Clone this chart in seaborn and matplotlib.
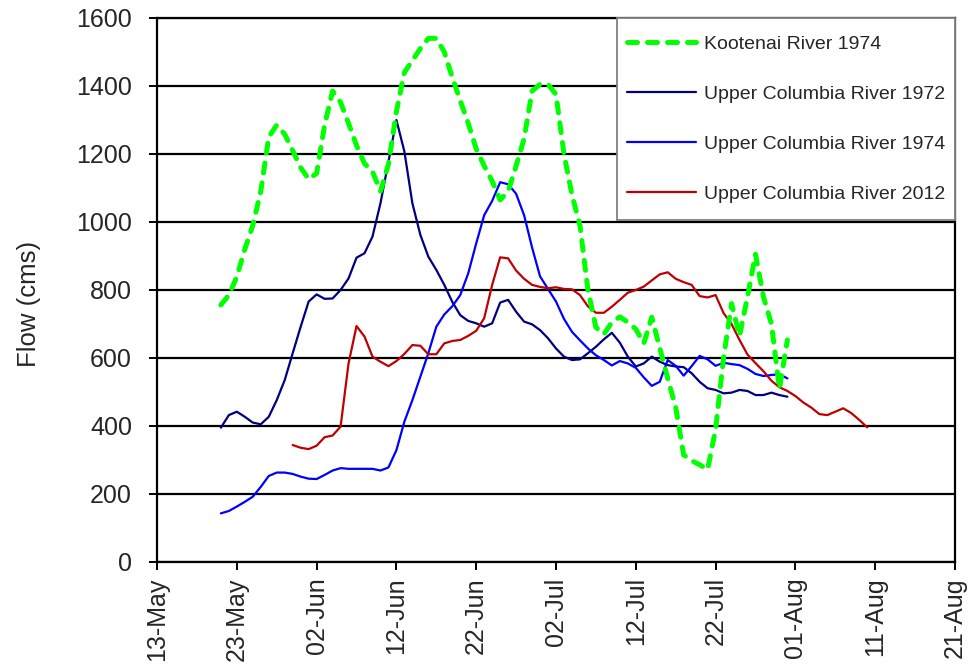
import matplotlib
matplotlib.use("Agg")
import matplotlib.pyplot as plt
import matplotlib.dates as mdates
from matplotlib.patches import Rectangle
import numpy as np
import pandas as pd
import seaborn as sns

# Daily flow (cms); each series starts on the given date
kootenai_1974_start = "2000-05-21"
kootenai_1974 = [
    756, 785, 839, 920, 990, 1090, 1250, 1285, 1258, 1210, 1160, 1126, 1143,
    1285, 1385, 1352, 1290, 1225, 1172, 1148, 1090, 1170, 1325, 1440, 1475,
    1510, 1540, 1540, 1500, 1425, 1357, 1290, 1215, 1165, 1120, 1065, 1090,
    1165, 1245, 1385, 1405, 1405, 1375, 1200, 1080, 990, 800, 690, 670, 705,
    721, 705, 685, 643, 720, 630, 540, 455, 315, 298, 286, 272, 390, 600, 760,
    665, 780, 905, 780, 700, 510, 653,
]

upper_col_1972_start = "2000-05-21"
upper_col_1972 = [
    395, 432, 442, 427, 410, 405, 427, 476, 535, 614, 692, 766, 787, 774, 775,
    800, 834, 895, 908, 957, 1055, 1177, 1300, 1207, 1055, 962, 898, 859, 815,
    765, 726, 709, 702, 692, 702, 763, 771, 736, 707, 699, 682, 658, 628, 604,
    594, 596, 614, 633, 655, 674, 645, 604, 575, 584, 604, 589, 579, 575, 573,
    555, 530, 511, 506, 496, 498, 506, 503, 491, 491, 498, 491, 486,
]

upper_col_1974_start = "2000-05-21"
upper_col_1974 = [
    143, 150, 163, 177, 192, 221, 253, 263, 263, 259, 251, 245, 244, 256, 269,
    276, 274, 274, 274, 274, 269, 278, 329, 413, 476, 545, 614, 692, 728, 752,
    785, 849, 937, 1020, 1062, 1117, 1111, 1083, 1020, 925, 840, 803, 766, 715,
    677, 652, 628, 608, 594, 578, 591, 584, 571, 543, 518, 530, 594, 577, 548,
    576, 606, 596, 577, 586, 582, 579, 568, 553, 547, 550, 552, 540,
]

upper_col_2012_start = "2000-05-30"
upper_col_2012 = [
    344, 336, 332, 342, 367, 372, 398, 584, 694, 663, 604, 589, 576, 591, 612,
    638, 636, 611, 611, 643, 650, 653, 665, 680, 717, 815, 896, 893, 857, 833,
    815, 809, 805, 808, 803, 802, 785, 752, 733, 733, 751, 771, 792, 800, 810,
    828, 846, 852, 833, 823, 815, 782, 778, 785, 732, 700, 653, 610, 585, 561,
    533, 514, 503, 488, 469, 454, 435, 432, 442, 452, 438, 418, 396,
]

series_names = [
    "Kootenai River 1974",
    "Upper Columbia River 1972",
    "Upper Columbia River 1974",
    "Upper Columbia River 2012",
]
series_starts = [kootenai_1974_start, upper_col_1972_start,
                 upper_col_1974_start, upper_col_2012_start]
series_values = [kootenai_1974, upper_col_1972, upper_col_1974, upper_col_2012]

y_ticks = [0, 200, 400, 600, 800, 1000, 1200, 1400, 1600]
x_start, x_end = "2000-05-13", "2000-08-21"

sns.set_style("white")
plt.rcParams["font.family"] = ["Liberation Sans", "DejaVu Sans"]

frames = []
for name, start, vals in zip(series_names, series_starts, series_values):
    frames.append(pd.DataFrame({
        "date": pd.date_range(start, periods=len(vals), freq="D"),
        "flow": vals,
        "series": name,
    }))
df = pd.concat(frames, ignore_index=True)

styles = {
    "Kootenai River 1974": dict(color="#00FF00", lw=3.6, z=5),
    "Upper Columbia River 1972": dict(color="#000080", lw=1.6, z=3),
    "Upper Columbia River 1974": dict(color="#0000FF", lw=1.6, z=3),
    "Upper Columbia River 2012": dict(color="#C00000", lw=1.6, z=4),
}

fig = plt.figure(figsize=(9.7, 6.68), dpi=100)
ax = fig.add_axes([0.1619, 0.1587, 0.8226, 0.8144])

for name in series_names:
    st = styles[name]
    sub = df[df["series"] == name]
    sns.lineplot(data=sub, x="date", y="flow", ax=ax, color=st["color"],
                 linewidth=st["lw"], label=name, zorder=st["z"], sort=False,
                 estimator=None)

green = ax.lines[0]
green.set_dashes((2.0, 2.0))
green.set_dash_capstyle("round")
green.set_solid_capstyle("round")

ax.set_xlim(pd.Timestamp(x_start), pd.Timestamp(x_end))
ax.set_ylim(0, 1600)
ax.set_yticks(y_ticks)
ax.set_xticks(pd.date_range(x_start, x_end, freq="10D"))
ax.xaxis.set_major_formatter(mdates.DateFormatter("%d-%b"))
for lbl in ax.get_xticklabels():
    lbl.set_rotation(90)

ax.yaxis.grid(True, color="black", linewidth=1.6)
ax.xaxis.grid(False)
ax.set_axisbelow(True)

for side in ["left", "bottom", "right", "top"]:
    ax.spines[side].set_color("black")
    ax.spines[side].set_linewidth(1.6)

ax.tick_params(axis="both", which="major", length=6, width=1.4,
               direction="out", color="black", bottom=True, left=True)
ax.tick_params(axis="y", labelsize=18, pad=12)
ax.tick_params(axis="x", labelsize=18, pad=5)

ax.set_xlabel("")
ax.set_ylabel("Flow (cms)", fontsize=18.5)
ax.yaxis.set_label_coords(-0.145, 0.474)

# Legend box in the upper-right corner of the plot area
box_x0, box_y0 = 0.5764, 0.6287
box_w, box_h = 1.0 - box_x0, 1.0 - box_y0
ax.add_patch(Rectangle((box_x0, box_y0), box_w, box_h, transform=ax.transAxes,
                       facecolor="white", edgecolor="#808080", linewidth=1.3,
                       zorder=10, clip_on=False))

handles, labels = ax.get_legend_handles_labels()
leg = ax.legend(handles, labels, loc="center",
                bbox_to_anchor=(box_x0, box_y0, box_w, box_h),
                borderaxespad=0, fontsize=14, frameon=False,
                handlelength=3.55, handletextpad=0.41,
                labelspacing=1.66, borderpad=0.0)
leg.set_zorder(11)

fig.savefig("out.png", dpi=100)
